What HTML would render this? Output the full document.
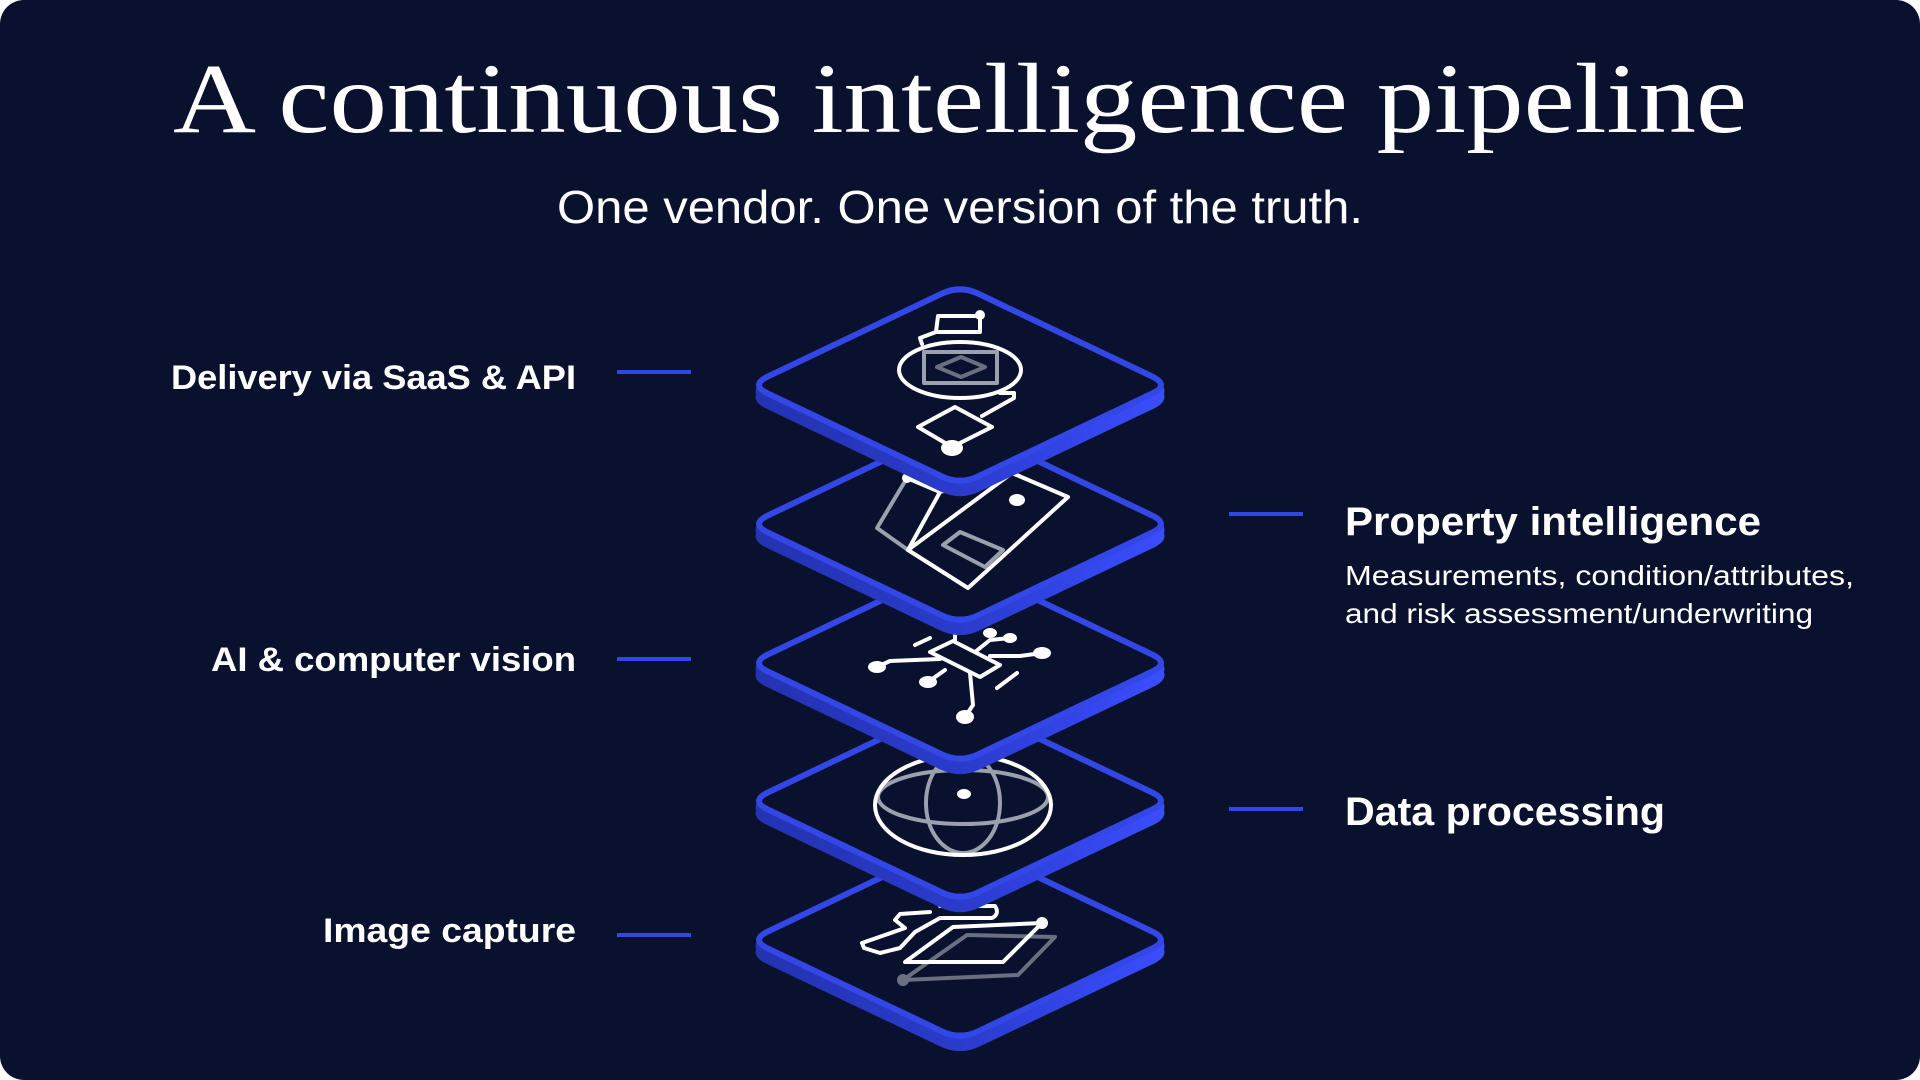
<!DOCTYPE html>
<html><head><meta charset="utf-8"><style>
html,body{margin:0;padding:0;background:#fff;}
svg{display:block}
</style></head><body>
<svg width="1920" height="1080" viewBox="0 0 1920 1080" xmlns="http://www.w3.org/2000/svg">
<defs>
<linearGradient id="ex" x1="0" x2="1" y1="0" y2="0">
<stop offset="0" stop-color="#2433b0"/><stop offset="0.5" stop-color="#2a3bcc"/><stop offset="1" stop-color="#3a4dff"/>
</linearGradient>
<path id="dia" d="M-192,-8.6 L-18,-91.4 Q0,-100 18,-91.4 L192,-8.6 Q210,0 192,8.6 L18,91.4 Q0,100 -18,91.4 L-192,8.6 Q-210,0 -192,-8.6 Z"/>
<g id="layer">
<use href="#dia" y="12" fill="url(#ex)" stroke="url(#ex)" stroke-width="7" stroke-linejoin="round"/>
<use href="#dia" y="6" fill="url(#ex)" stroke="url(#ex)" stroke-width="7" stroke-linejoin="round"/>
<use href="#dia" fill="#0a112e" stroke="#3347e6" stroke-width="6" stroke-linejoin="round"/>
</g>
</defs>
<rect x="0" y="0" width="1920" height="1080" rx="24" fill="#0a112e"/>
<g font-family="Liberation Serif, serif" fill="#fff">
<text x="960" y="132" text-anchor="middle" font-size="100" textLength="1574" lengthAdjust="spacingAndGlyphs">A continuous intelligence pipeline</text>
</g>
<g font-family="Liberation Sans, sans-serif" fill="#fff">
<text x="960" y="223" text-anchor="middle" font-size="46" textLength="806" lengthAdjust="spacingAndGlyphs">One vendor. One version of the truth.</text>
<g font-weight="bold" font-size="34">
<text x="576" y="389" text-anchor="end" textLength="405" lengthAdjust="spacingAndGlyphs">Delivery via SaaS &amp; API</text>
<text x="576" y="671" text-anchor="end" textLength="365" lengthAdjust="spacingAndGlyphs">AI &amp; computer vision</text>
<text x="576" y="942" text-anchor="end" textLength="253" lengthAdjust="spacingAndGlyphs">Image capture</text>
<text x="1345" y="535" font-size="40" textLength="416" lengthAdjust="spacingAndGlyphs">Property intelligence</text>
<text x="1345" y="825" font-size="40" textLength="320" lengthAdjust="spacingAndGlyphs">Data processing</text>
</g>
<text x="1345" y="585" font-size="28" textLength="509" lengthAdjust="spacingAndGlyphs">Measurements, condition/attributes,</text>
<text x="1345" y="623" font-size="28" textLength="468" lengthAdjust="spacingAndGlyphs">and risk assessment/underwriting</text>
</g>
<g stroke="#3347e6" stroke-width="4">
<line x1="617" y1="372" x2="691" y2="372"/>
<line x1="617" y1="659" x2="691" y2="659"/>
<line x1="617" y1="935" x2="691" y2="935"/>
<line x1="1229" y1="514" x2="1303" y2="514"/>
<line x1="1229" y1="809" x2="1303" y2="809"/>
</g>

<use href="#layer" x="960" y="940"/>
<g fill="none" stroke-linejoin="round" stroke-linecap="round" stroke-width="4">
<path d="M903,980 L967,935 L1055,937 L1018,975 Z" stroke="#6b7080"/>
<circle cx="903" cy="980" r="6" fill="#6b7080" stroke="none"/>
<path d="M905,962 L953,927 L1042,923 L1003,962 Z" stroke="#fff"/>
<circle cx="1042" cy="923" r="6" fill="#fff" stroke="none"/>
<path d="M940,906 L995,906 Q1000,914 992,918 L940,918 L915,932 L900,948 L880,953 L864,948 L862,943 L885,935 L905,928 L895,920 L900,914 L930,912" stroke="#fff"/>
</g>

<use href="#layer" x="960" y="801"/>
<g fill="none" stroke-width="4">
<ellipse cx="963" cy="797" rx="85" ry="27" stroke="#9aa0ad"/>
<ellipse cx="963" cy="803" rx="37" ry="50" stroke="#9aa0ad"/>
<ellipse cx="963" cy="805" rx="88" ry="50" stroke="#fff"/>
<ellipse cx="964" cy="794" rx="7" ry="5" fill="#fff" stroke="none"/>
</g>

<use href="#layer" x="960" y="663"/>
<g fill="none" stroke="#fff" stroke-width="4" stroke-linejoin="round" stroke-linecap="round">
<path d="M930,652 L953,641 L1000,665 L980,677 Z"/>
<path d="M877,667 L890,661 L940,659"/>
<path d="M928,682 L945,670"/>
<path d="M970,673 L973,705 L965,717"/>
<path d="M1042,653 L1020,656 L990,656"/>
<path d="M997,688 L1017,673"/>
<path d="M915,645 L930,638"/>
<path d="M955,641 L955,630 L965,628"/>
<path d="M975,652 L990,640 L1010,638"/>
<g fill="#fff" stroke="none">
<ellipse cx="877" cy="667" rx="9" ry="6"/>
<ellipse cx="928" cy="682" rx="9" ry="6"/>
<ellipse cx="965" cy="717" rx="9" ry="7"/>
<ellipse cx="1042" cy="653" rx="9" ry="6"/>
<ellipse cx="990" cy="633" rx="7" ry="5"/>
<ellipse cx="1010" cy="638" rx="7" ry="5"/>
</g>
</g>

<use href="#layer" x="960" y="524"/>
<g fill="none" stroke-width="4" stroke-linejoin="round" stroke-linecap="round">
<path d="M907,478 L877,528 L908,550" stroke="#9aa0ad"/>
<path d="M943,545 L960,532 L1003,550 L985,567 Z" stroke="#9aa0ad"/>
<path d="M907,478 L940,492 L908,550 M940,492 L1012,473 M908,550 L1012,473 M908,550 L968,588 L1068,497 L1012,473" stroke="#fff"/>
<circle cx="907" cy="478" r="5" fill="#fff" stroke="none"/>
<ellipse cx="1017" cy="500" rx="8" ry="6" fill="#fff" stroke="none"/>
</g>

<use href="#layer" x="960" y="385"/>
<g fill="none" stroke-width="4" stroke-linejoin="round" stroke-linecap="round">
<path d="M924,352 L997,352 L997,383 L924,383 Z" stroke="#9aa0ad"/>
<path d="M937,367 L961,357 L985,367 L961,377 Z" stroke="#6b7080"/>
<path d="M938,316 L980,316 L980,332 L936,332 Z" stroke="#fff"/>
<circle cx="980" cy="315" r="5" fill="#fff" stroke="none"/>
<path d="M936,332 L920,338 L922,344" stroke="#fff"/>
<ellipse cx="960" cy="370" rx="61" ry="28" stroke="#fff"/>
<path d="M1000,393 L1014,393 L1014,398 L982,416 M918,427 L955,407 L992,427 L952,447 Z" stroke="#fff"/>
<ellipse cx="952" cy="448" rx="11" ry="8" fill="#fff" stroke="none"/>
</g>
</svg>
</body></html>
